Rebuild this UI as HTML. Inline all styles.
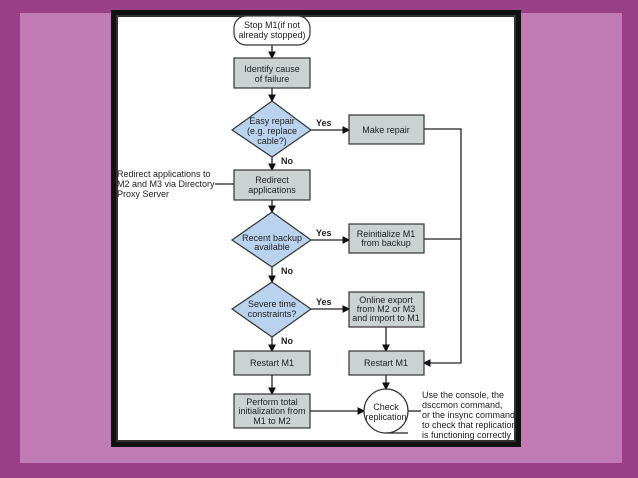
<!DOCTYPE html>
<html><head><style>
body{margin:0;width:638px;height:478px;overflow:hidden;background:#983f86;}
.panel{position:absolute;left:20px;top:13px;width:602px;height:450px;background:#c07ab4;}
.frame{position:absolute;left:111px;top:10px;width:410px;height:437px;background:#111;}
.inner{position:absolute;left:116px;top:15px;width:400px;height:427px;background:#333;}
.white{position:absolute;left:118px;top:17px;width:396px;height:423px;background:#fff;}
svg{position:absolute;left:0;top:0}
text{font-family:"Liberation Sans",sans-serif;font-size:9px;fill:#222}
</style></head><body>
<div class="panel"></div>
<div class="frame"></div><div class="inner"></div><div class="white"></div>
<svg width="638" height="478">
<defs><marker id="a" markerWidth="6" markerHeight="6" refX="5" refY="3" orient="auto"><path d="M0,0 L6,3 L0,6z" fill="#111"/></marker></defs>
<g stroke="#222" stroke-width="1.3" fill="none">
<line x1="272" y1="45" x2="272" y2="58" marker-end="url(#a)"/>
<line x1="272" y1="88" x2="272" y2="101" marker-end="url(#a)"/>
<line x1="272" y1="157" x2="272" y2="170" marker-end="url(#a)"/>
<line x1="272" y1="200" x2="272" y2="212" marker-end="url(#a)"/>
<line x1="272" y1="267" x2="272" y2="282" marker-end="url(#a)"/>
<line x1="272" y1="337" x2="272" y2="351" marker-end="url(#a)"/>
<line x1="272" y1="375" x2="272" y2="394" marker-end="url(#a)"/>
<line x1="311" y1="130" x2="349" y2="130" marker-end="url(#a)"/>
<line x1="311" y1="240" x2="349" y2="240" marker-end="url(#a)"/>
<line x1="311" y1="309" x2="349" y2="309" marker-end="url(#a)"/>
<line x1="386" y1="327" x2="386" y2="351" marker-end="url(#a)"/>
<line x1="386" y1="375" x2="386" y2="389" marker-end="url(#a)"/>
<line x1="310" y1="411" x2="364" y2="411" marker-end="url(#a)"/>
<polyline points="424,129 461,129 461,363 424,363" marker-end="url(#a)"/>
<line x1="424" y1="239" x2="461" y2="239"/>
<line x1="215" y1="184" x2="234" y2="184"/>
<line x1="408" y1="411" x2="421" y2="411"/>
<line x1="386" y1="433" x2="408" y2="433"/>
</g>
<g stroke="#333" stroke-width="1.2" fill="#ccd2d2">
<rect x="234" y="16" width="76" height="29" rx="12" fill="#fff"/>
<rect x="234" y="58" width="76" height="30"/>
<rect x="349" y="115" width="75" height="29"/>
<rect x="234" y="170" width="76" height="30"/>
<rect x="349" y="224" width="75" height="29"/>
<rect x="349" y="292" width="75" height="35"/>
<rect x="234" y="351" width="76" height="24"/>
<rect x="349" y="351" width="75" height="24"/>
<rect x="234" y="394" width="76" height="34"/>
<polygon points="272,101 311,130 272,157 232,130" fill="#b9d3ee"/>
<polygon points="272,212 311,240 272,267 232,240" fill="#b9d3ee"/>
<polygon points="272,282 311,309 272,337 232,309" fill="#b9d3ee"/>
<circle cx="386" cy="411" r="22" fill="#fff"/>
</g>
<g text-anchor="middle">
<text x="272" y="28">Stop M1(if not</text><text x="272" y="38">already stopped)</text>
<text x="272" y="72">Identify cause</text><text x="272" y="82">of failure</text>
<text x="272" y="124">Easy repair</text><text x="272" y="134">(e.g. replace</text><text x="272" y="144">cable?)</text>
<text x="386" y="133">Make repair</text>
<text x="272" y="183">Redirect</text><text x="272" y="193">applications</text>
<text x="272" y="241">Recent backup</text><text x="272" y="250">available</text>
<text x="386" y="237">Reinitialize M1</text><text x="386" y="246">from backup</text>
<text x="272" y="307">Severe time</text><text x="272" y="317">constraints?</text>
<text x="386" y="303">Online export</text><text x="386" y="312">from M2 or M3</text><text x="386" y="321">and import to M1</text>
<text x="272" y="366">Restart M1</text><text x="386" y="366">Restart M1</text>
<text x="272" y="405">Perform total</text><text x="272" y="414">initialization from</text><text x="272" y="424">M1 to M2</text>
<text x="386" y="410">Check</text><text x="386" y="420">replication</text>
</g>
<g>
<text x="316" y="126" style="font-weight:bold">Yes</text>
<text x="316" y="236" style="font-weight:bold">Yes</text>
<text x="316" y="305" style="font-weight:bold">Yes</text>
<text x="281" y="164" style="font-weight:bold">No</text>
<text x="281" y="274" style="font-weight:bold">No</text>
<text x="281" y="344" style="font-weight:bold">No</text>
</g>
<text x="117" y="177">Redirect applications to</text>
<text x="117" y="187">M2 and M3 via Directory</text>
<text x="117" y="197">Proxy Server</text>
<text x="422" y="398">Use the console, the</text>
<text x="422" y="408">dsccmon command,</text>
<text x="422" y="418">or the insync command</text>
<text x="422" y="428">to check that replication</text>
<text x="422" y="438">is functioning correctly</text>
</svg>
</body></html>
